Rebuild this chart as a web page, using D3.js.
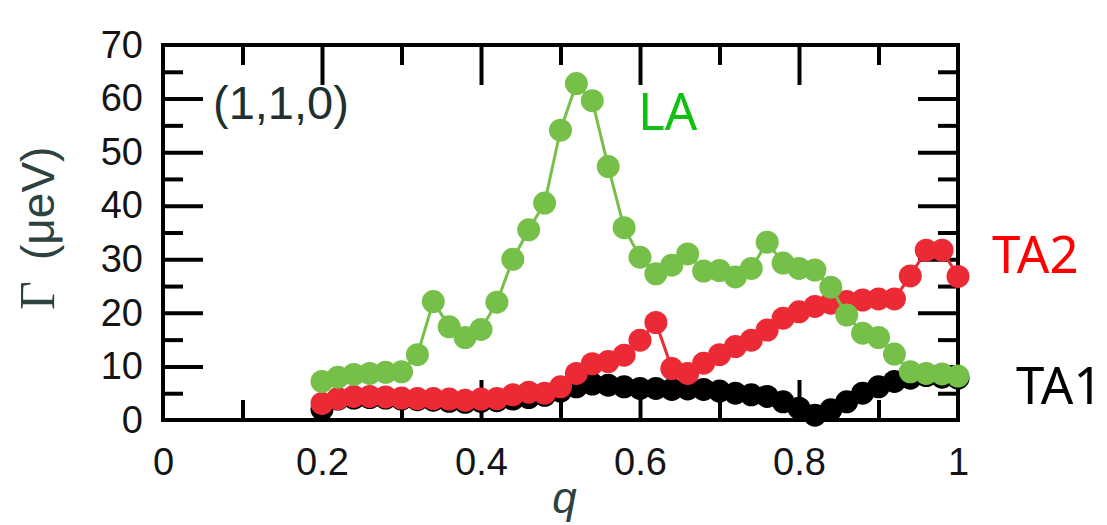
<!DOCTYPE html>
<html>
<head>
<meta charset="utf-8">
<script src="https://cdn.jsdelivr.net/npm/d3@7"></script>
<style>
  html, body { margin: 0; padding: 0; background: #ffffff; }
  svg { display: block; }
</style>
</head>
<body>
<svg id="chart" width="1107" height="525"></svg>
<script>
// Wave vector along (1,1,0), reduced units
const qValues = [
  0.20, 0.22, 0.24, 0.26, 0.28, 0.30, 0.32, 0.34, 0.36, 0.38,
  0.40, 0.42, 0.44, 0.46, 0.48, 0.50, 0.52, 0.54, 0.56, 0.58,
  0.60, 0.62, 0.64, 0.66, 0.68, 0.70, 0.72, 0.74, 0.76, 0.78,
  0.80, 0.82, 0.84, 0.86, 0.88, 0.90, 0.92, 0.94, 0.96, 0.98, 1.00
];

// Linewidth Γ (μeV) of each phonon branch
const gammaLA = [
  7.2, 8.0, 8.5, 8.7, 8.9, 9.0, 12.2, 22.1, 17.4, 15.4,
  16.9, 22.0, 30.0, 35.5, 40.5, 54.1, 62.8, 59.6, 47.3, 35.9,
  30.4, 27.3, 28.9, 31.0, 27.8, 27.9, 26.7, 28.3, 33.2, 29.3,
  28.3, 28.0, 24.8, 19.6, 16.2, 15.4, 12.3, 9.0, 8.7, 8.6, 8.2
];
const gammaTA2 = [
  3.1, 4.0, 4.4, 4.4, 4.3, 4.1, 4.0, 4.0, 3.9, 3.7,
  3.9, 4.0, 4.7, 5.2, 5.0, 6.2, 8.7, 10.5, 10.9, 12.1,
  14.9, 18.2, 9.6, 8.7, 10.6, 12.2, 13.7, 14.9, 16.8, 19.0,
  20.2, 21.2, 21.8, 22.1, 22.4, 22.6, 22.6, 26.9, 31.7, 31.7, 26.8
];
const gammaTA1 = [
  2.0, 3.9, 4.1, 4.2, 4.1, 3.9, 3.8, 3.7, 3.5, 3.3,
  3.5, 3.6, 3.9, 4.2, 4.6, 5.4, 6.2, 6.7, 6.5, 6.2,
  5.9, 5.9, 5.7, 5.8, 5.7, 5.4, 5.0, 4.7, 4.4, 3.4,
  2.2, 0.9, 1.9, 3.4, 5.0, 6.2, 7.2, 7.8, 8.3, 8.0, 7.8
];

const branchNames = ["TA1", "TA2", "LA"];

// Axis ticks
const xMajorTicks = [0.2, 0.4, 0.6, 0.8];
const xMinorTicks = [0.1, 0.3, 0.5, 0.7, 0.9];
const xTickLabels = [0, 0.2, 0.4, 0.6, 0.8, 1];
const yMajorTicks = [10, 20, 30, 40, 50, 60];
const yMinorTicks = [5, 15, 25, 35, 45, 55, 65];
const yTickLabels = [0, 10, 20, 30, 40, 50, 60, 70];

const margin = { top: 45, left: 163, right: 149, bottom: 105 };
const W = 1107, H = 525;
const innerW = W - margin.left - margin.right;
const innerH = H - margin.top - margin.bottom;

const svg = d3.select("#chart");
const g = svg.append("g").attr("transform", `translate(${margin.left},${margin.top})`);

const x = d3.scaleLinear().domain([0, 1]).range([0, innerW]);
const y = d3.scaleLinear().domain([0, 70]).range([innerH, 0]);

const tickFont = "'Liberation Sans', Arial, sans-serif";

function styleTicks(sel) {
  sel.select(".domain").remove();
  sel.selectAll("line").attr("stroke", "#000").attr("stroke-width", 4);
}

// Inward ticks on all four sides
const axes = [
  [d3.axisLeft(y).tickValues(yMajorTicks).tickSize(-40), 0, 0],
  [d3.axisLeft(y).tickValues(yMinorTicks).tickSize(-20), 0, 0],
  [d3.axisRight(y).tickValues(yMajorTicks).tickSize(-40), innerW, 0],
  [d3.axisRight(y).tickValues(yMinorTicks).tickSize(-20), innerW, 0],
  [d3.axisBottom(x).tickValues(xMajorTicks).tickSize(-40), 0, innerH],
  [d3.axisBottom(x).tickValues(xMinorTicks).tickSize(-20), 0, innerH],
  [d3.axisTop(x).tickValues(xMajorTicks).tickSize(-40), 0, 0],
  [d3.axisTop(x).tickValues(xMinorTicks).tickSize(-20), 0, 0]
];
axes.forEach(([ax, tx, ty]) => {
  g.append("g")
    .attr("transform", `translate(${tx},${ty})`)
    .call(ax.tickFormat(""))
    .call(styleTicks);
});

// Tick labels
const yLab = g.append("g")
  .call(d3.axisLeft(y).tickValues(yTickLabels).tickSize(0).tickPadding(20).tickFormat(d3.format("d")));
yLab.select(".domain").remove();
yLab.selectAll("text")
  .attr("font-family", tickFont).attr("font-size", 38).attr("fill", "#141414");

const xLab = g.append("g")
  .attr("transform", `translate(0,${innerH})`)
  .call(d3.axisBottom(x).tickValues(xTickLabels).tickSize(0).tickPadding(28).tickFormat(d => d3.format("")(d)));
xLab.select(".domain").remove();
xLab.selectAll("text")
  .attr("font-family", tickFont).attr("font-size", 38).attr("fill", "#141414");

// Plot frame
g.append("rect")
  .attr("x", 0).attr("y", 0)
  .attr("width", innerW).attr("height", innerH)
  .attr("fill", "none").attr("stroke", "#000").attr("stroke-width", 4);

// Branch curves
const series = [
  { name: branchNames[0], values: gammaTA1, color: "#000000" },
  { name: branchNames[1], values: gammaTA2, color: "#ec2a35" },
  { name: branchNames[2], values: gammaLA,  color: "#76c04a" }
];

const line = d3.line().x(d => x(d[0])).y(d => y(d[1]));

series.forEach(s => {
  const pts = qValues.map((q, i) => [q, s.values[i]]);
  const sg = g.append("g").attr("class", "branch-" + s.name);
  sg.append("path")
    .datum(pts)
    .attr("d", line)
    .attr("fill", "none")
    .attr("stroke", s.color)
    .attr("stroke-width", 3);
  sg.selectAll("circle")
    .data(pts)
    .join("circle")
    .attr("cx", d => x(d[0]))
    .attr("cy", d => y(d[1]))
    .attr("r", 11.5)
    .attr("fill", s.color);
});

// Direction label inside the frame
g.append("text")
  .attr("x", 50).attr("y", 74)
  .attr("font-family", tickFont).attr("font-size", 47)
  .attr("fill", "#1f302e")
  .text("(1,1,0)");

// Branch labels
const labelFont = "'Noto Sans', 'Open Sans', sans-serif";
svg.append("text").attr("x", 638).attr("y", 130)
  .attr("font-family", labelFont).attr("font-size", 51).attr("fill", "#10c010").text(branchNames[2]);
svg.append("text").attr("x", 992).attr("y", 273)
  .attr("font-family", labelFont).attr("font-size", 51).attr("fill", "#ff0000").text(branchNames[1]);
svg.append("text").attr("x", 1016).attr("y", 404)
  .attr("font-family", labelFont).attr("font-size", 51).attr("fill", "#000000").text(branchNames[0]);

// Axis titles
svg.append("text")
  .attr("x", margin.left + innerW / 2 + 4).attr("y", 513)
  .attr("text-anchor", "middle")
  .attr("font-family", tickFont).attr("font-style", "italic").attr("font-size", 44)
  .attr("fill", "#2e4240")
  .text("q");

const yTitle = svg.append("g").attr("transform", "translate(54,310) rotate(-90)");
yTitle.append("text")
  .attr("x", 0).attr("y", 0)
  .attr("font-family", "'Liberation Serif', 'DejaVu Serif', serif").attr("font-size", 50)
  .attr("fill", "#2e4240")
  .text("Γ");
yTitle.append("text")
  .attr("x", 50).attr("y", 0)
  .attr("font-family", tickFont).attr("font-size", 46)
  .attr("fill", "#2e4240")
  .text("(μeV)");
</script>
</body>
</html>
